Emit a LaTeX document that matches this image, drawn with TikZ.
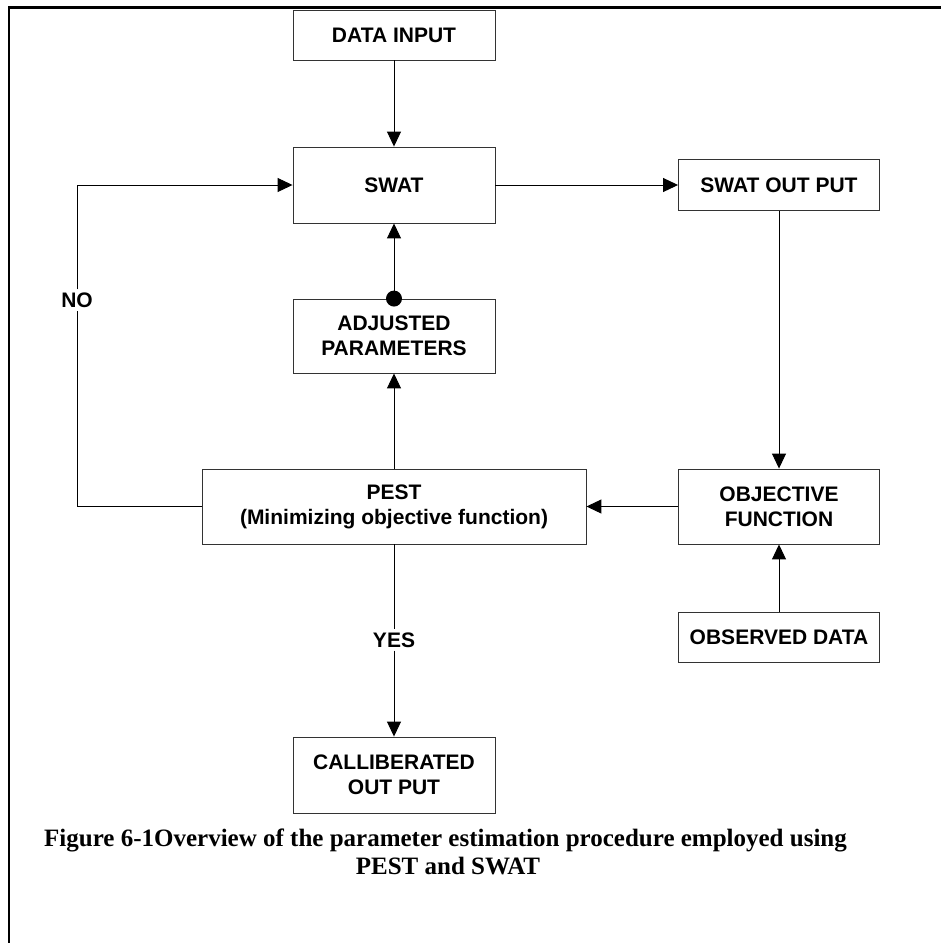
\documentclass[tikz,border=0pt]{standalone}
\usepackage{fontspec}
\setmainfont{Liberation Serif}
\newfontfamily\boxfont{Liberation Sans}
\usetikzlibrary{arrows.meta}

\begin{document}
\begin{tikzpicture}[
x=1pt, y=-1pt,
box/.style={
draw=black!80,
line width=0.9pt,
align=center,
inner sep=0pt,
minimum width=202pt,
font=\boxfont\bfseries\fontsize{21}{25}\selectfont,
},
flow/.style={
line width=1pt,
-{Triangle[length=15pt, width=14pt]},
},
tag/.style={
fill=white,
inner sep=3pt,
font=\boxfont\bfseries\fontsize{21}{25}\selectfont,
},
capline/.style={
font=\bfseries\fontsize{25}{28}\selectfont,
inner sep=0pt,
}
]

\useasboundingbox (0,0) rectangle (941,943);

% page frame
\draw[line width=2.5pt] (9,943) -- (9,7.5) -- (941,7.5);

% centre column
\node [box, minimum height=50pt] at (394,35) (input) {DATA INPUT};
\node [box, minimum height=76pt] at (394,185) (swat) {SWAT};
\node [box, minimum height=74pt] at (394,336) (adjusted)
{ADJUSTED\\PARAMETERS};
\node [box, minimum width=384pt, minimum height=75pt] at (394,506.5) (pest)
{PEST\\(Minimizing objective function)};
\node [box, minimum height=76pt] at (394,775) (calib)
{CALLIBERATED\\OUT PUT};

% right column
\node [box, minimum width=201pt, minimum height=51pt] at (779,185) (swatout) {SWAT OUT PUT};
\node [box, minimum width=201pt, minimum height=75pt] at (779,506.5) (objective)
{OBJECTIVE\\FUNCTION};
\node [box, minimum width=201pt, minimum height=50pt] at (779,637) (observed) {OBSERVED DATA};

% decision labels
\node [tag] at (77,300) (no) {NO};
\node [tag] at (394,640) (yes) {YES};

% flow
\draw [flow] (input) -- (swat);
\draw [flow] (swat) -- (swatout);
\draw [flow] (swatout) -- (objective);
\draw [flow] (observed) -- (objective);
\draw [flow] (objective) -- (pest);
\draw [flow] (pest) -- (adjusted);
\draw [flow] (adjusted) -- (swat);
\fill (adjusted.north) circle (8pt);

% loop back / exit
\draw [line width=1pt] (pest.west) -| (no);
\draw [flow] (no) |- (swat.west);
\draw [line width=1pt] (pest) -- (yes);
\draw [flow] (yes) -- (calib);

% caption
\node [capline, anchor=base west] at (44,846) (figcap)
{Figure 6-1Overview of the parameter estimation procedure employed using};
\node [capline, anchor=base] at (448,874) (figcap2) {PEST and SWAT};

\end{tikzpicture}
\end{document}
